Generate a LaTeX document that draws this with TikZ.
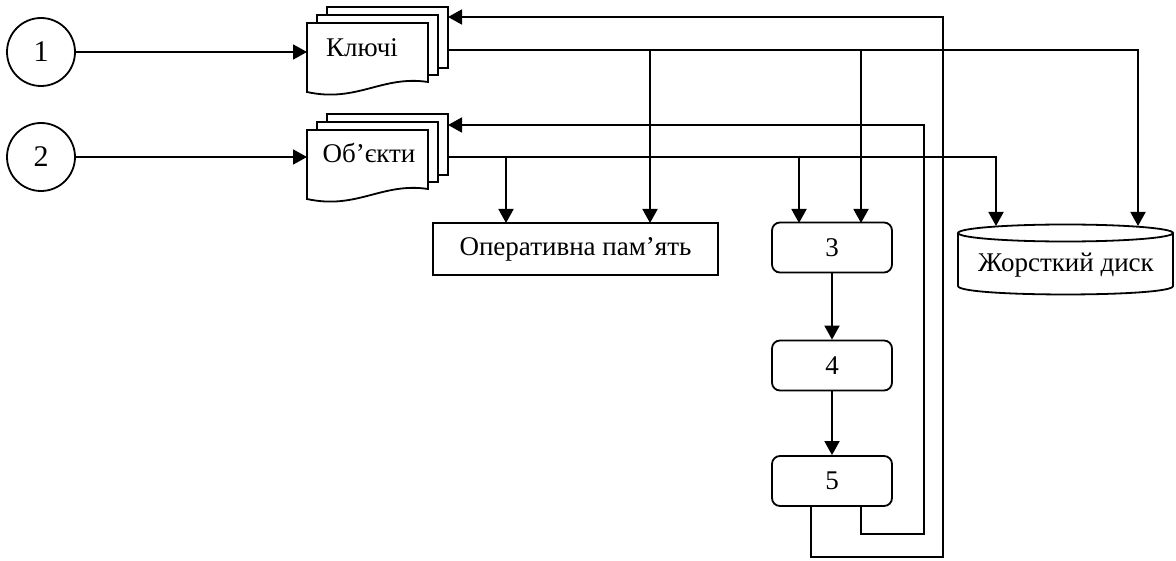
\documentclass[tikz,border=0pt]{standalone}
\usepackage{fontspec}
\setmainfont{Liberation Serif}
\usetikzlibrary{arrows.meta}

% stack of three document pages, front page top-left at (#1,#2)
\newcommand{\docstack}[2]{%
    \draw[fill=white] (#1+20,#2-16) rectangle (#1+141,#2+45);
    \draw[fill=white] (#1+10,#2-8) rectangle (#1+131,#2+52);
    \draw[fill=white] (#1,#2) -- (#1+121,#2) -- (#1+121,#2+59)
        .. controls (#1+75,#2+52) and (#1+50,#2+80) .. (#1,#2+69) -- cycle;}

\begin{document}
\begin{tikzpicture}[x=0.5pt,y=-0.5pt,line width=0.9pt,
    txt/.style={font=\fontsize{13.5}{16}\selectfont},
    arr/.style={-{Triangle[length=7pt,width=7.5pt]}},
    inp/.style={draw,circle,font=\fontsize{15}{18}\selectfont,minimum size=34pt,inner sep=0pt},
    blk/.style={draw,txt,rounded corners=4pt,minimum width=60pt,minimum height=25pt}]
    \useasboundingbox (0,0) rectangle (1176,561);

    % inputs
    \node[inp] (c1) at (41,52) {1};
    \node[inp] (c2) at (41,157) {2};

    \docstack{307}{23}
    \docstack{307}{130}
    \node[txt] (kl) at (362,48) {Ключі};
    \node[txt] (ob) at (369,153) {Об’єкти};
    \coordinate (klw) at (307,52);
    \coordinate (obw) at (307,157);
    \coordinate (kli) at (448,17);
    \coordinate (klo) at (448,50);
    \coordinate (obi) at (448,125);
    \coordinate (obo) at (448,157);

    \draw[arr] (c1) -- (klw);
    \draw[arr] (c2) -- (obw);

    % storage
    \node[draw,txt,minimum width=142.5pt,minimum height=26pt] (ram) at (575.5,249) {Оперативна пам’ять};
    \draw (1065.5,233) ellipse [x radius=107.5,y radius=8.5];
    \draw (958,233) -- (958,286) .. controls (958,297.3) and (1173,297.3) .. (1173,286) -- (1173,233);
    \node[txt] (hd) at (1066,265) {Жорсткий диск};

    % processing
    \node[blk] (b3) at (832,247.5) {3};
    \node[blk] (b4) at (832,365.5) {4};
    \node[blk] (b5) at (832,481) {5};

    \coordinate (r1) at (506,223);
    \coordinate (r2) at (650,223);
    \coordinate (t1) at (799,223);
    \coordinate (t2) at (861,223);
    \coordinate (d1) at (996,226);
    \coordinate (d2) at (1138,226);

    \draw[arr] (klo) -| (d2);
    \draw[arr] (klo -| r2) -- (r2);
    \draw[arr] (klo -| t2) -- (t2);
    \draw[arr] (obo) -| (d1);
    \draw[arr] (obo -| r1) -- (r1);
    \draw[arr] (obo -| t1) -- (t1);

    \draw[arr] (b3) -- (b4);
    \draw[arr] (b4) -- (b5);

    % feedback
    \draw[arr] ([xshift=-10.5pt]b5.south) |- (943,557) |- (kli);
    \draw[arr] ([xshift=14.5pt]b5.south) |- (924,534) |- (obi);
\end{tikzpicture}
\end{document}
